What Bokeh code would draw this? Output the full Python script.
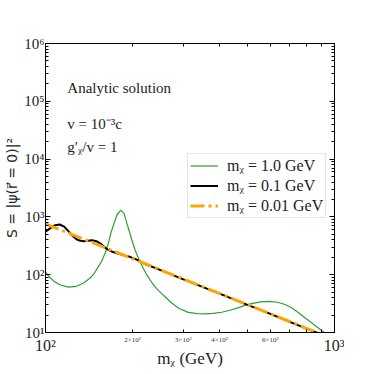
from bokeh.plotting import figure
from bokeh.models import LogAxis, FixedTicker, Label, Legend, LegendItem
from bokeh.embed import file_html
from bokeh.resources import INLINE

# ---- data ----
m_green = [100, 103, 106.6, 112, 120, 128, 135.4, 142, 146.6, 152, 156.5, 161, 165.1, 169, 172.9, 177, 182.3,
           187, 191, 195, 198.7, 204, 210, 217, 224, 233, 242, 256, 274, 290, 312, 335, 357, 380, 407, 435,
           466, 495, 517, 555, 597, 635, 675, 715, 751, 790, 833, 875, 915, 960, 1000]
s_green = [112, 92, 78, 67, 61, 63, 72, 86, 101, 135, 171, 240, 356, 560, 790, 1100, 1306,
           1150, 790, 560, 406, 270, 190, 135, 100, 74, 58, 44, 32, 26, 22.3, 21.2, 21, 21.4, 22.4, 24.3,
           27, 30, 31.6, 33.8, 34.6, 33.4, 30.5, 26.3, 22, 18, 14.7, 12.2, 10.3, 8.5, 7.2]

m_black = [100, 104, 108, 112, 116, 120, 124, 128, 132, 136, 140, 145, 150, 155, 160, 165, 170, 176, 182,
           188, 196, 203, 210, 220, 250, 300, 400, 500, 600, 700, 800, 900, 1000]
s_black = [552, 640, 720, 739, 680, 566, 470, 410, 385, 380, 388, 395, 380, 345, 300, 268, 250, 238, 226,
           214, 204, 190, 176, 155, 120, 83, 47, 30, 21, 15.3, 11.7, 9.3, 7.5]

m_orange = [100, 120, 150, 200, 250, 300, 400, 500, 600, 700, 800, 900, 1000]
s_orange = [758, 526, 337, 190, 121, 84, 47.4, 30.3, 21, 15.5, 11.8, 9.4, 7.6]

legend_labels = ["mᵪ = 1.0 GeV", "mᵪ = 0.1 GeV", "mᵪ = 0.01 GeV"]

x_major = [100, 1000]
x_minor = [200, 300, 400, 500, 600, 700, 800, 900]
x_major_labels = {100: "10²", 1000: "10³"}
x_minor_labels = {200: "2×10²", 300: "3×10²", 400: "4×10²", 600: "6×10²"}
y_major = [1e1, 1e2, 1e3, 1e4, 1e5, 1e6]
y_minor = [k * 10 ** e for e in range(1, 6) for k in range(2, 10)]
y_major_labels = {10: "10¹", 100: "10²", 1000: "10³", 10000: "10⁴", 100000: "10⁵", 1000000: "10⁶"}

FONT = "Liberation Serif"
TXT = "#222222"

p = figure(frame_width=289, frame_height=289, x_axis_type="log", y_axis_type="log",
           x_range=(100, 1000), y_range=(10, 1e6),
           output_backend="svg", toolbar_location=None,
           min_border_left=45, min_border_right=10, min_border_top=43, min_border_bottom=20)
p.xgrid.visible = False
p.ygrid.visible = False
p.outline_line_color = "black"
p.outline_line_width = 1

def ticks_style(ax, ticks, minor, tin=5, min_in=3):
    ax.ticker = FixedTicker(ticks=ticks, minor_ticks=minor)
    ax.major_tick_in = tin
    ax.major_tick_out = 0
    ax.minor_tick_in = min_in
    ax.minor_tick_out = 0
    ax.axis_line_color = "black"
    ax.major_tick_line_color = "black"
    ax.minor_tick_line_color = "black"

def hide_labels(ax, ticks):
    ax.major_label_overrides = {t: " " for t in ticks}
    ax.major_label_text_font_size = "1px"
    ax.major_label_text_color = None
    ax.major_label_standoff = 0

# bottom axis 1: ticks + small minor-position labels
xb = p.xaxis[0]
all_x = x_major + x_minor
ticks_style(xb, sorted(all_x), [], tin=3)
xb.major_label_overrides = {t: x_minor_labels.get(t, " ") for t in all_x}
xb.major_label_text_font = FONT
xb.major_label_text_font_size = "7px"
xb.major_label_text_color = "#333333"
xb.major_label_standoff = 3

# bottom axis 2: big decade labels + axis title
xb2 = LogAxis()
xb2.ticker = FixedTicker(ticks=x_major, minor_ticks=[])
xb2.major_tick_in = 0
xb2.major_tick_out = 0
xb2.minor_tick_in = 0
xb2.minor_tick_out = 0
xb2.axis_line_color = None
xb2.major_label_overrides = x_major_labels
xb2.major_label_text_font = FONT
xb2.major_label_text_font_size = "16px"
xb2.major_label_text_color = TXT
xb2.major_label_standoff = -10
xb2.axis_label = "mᵪ (GeV)"
xb2.axis_label_text_font = FONT
xb2.axis_label_text_font_style = "normal"
xb2.axis_label_text_font_size = "17px"
xb2.axis_label_text_color = TXT
xb2.axis_label_standoff = -8
p.add_layout(xb2, "below")

# left axis
yl = p.yaxis[0]
ticks_style(yl, y_major, y_minor)
yl.major_label_overrides = y_major_labels
yl.major_label_text_font = FONT
yl.major_label_text_font_size = "15px"
yl.major_label_text_color = TXT
yl.major_label_standoff = 1
yl.axis_label = "S = |ψ(r⃗ = 0)|²"
yl.axis_label_text_font = "DejaVu Sans"
yl.axis_label_text_font_style = "normal"
yl.axis_label_text_font_size = "14px"
yl.axis_label_text_color = TXT
yl.axis_label_standoff = 1

top = LogAxis()
ticks_style(top, x_major + x_minor, [], tin=3)
hide_labels(top, x_major + x_minor)
p.add_layout(top, "above")
right = LogAxis()
ticks_style(right, y_major, y_minor)
hide_labels(right, y_major)
p.add_layout(right, "right")

r_green = p.line(m_green, s_green, line_color="#2ca02c", line_width=1.2)
r_black = p.line(m_black, s_black, line_color="black", line_width=2)
r_orange = p.line(m_orange, s_orange, line_color="orange", line_width=3, line_dash="14 4 3 4")

texts = [("Analytic solution", 1.25e5), ("v = 10⁻³c", 3.0e4), ("g′ᵪ/v = 1", 1.2e4)]
for t, yv in texts:
    p.add_layout(Label(x=119, y=yv, text=t, text_font=FONT, text_font_size="15px",
                       text_color=TXT))

legend = Legend(items=[LegendItem(label=legend_labels[0], renderers=[r_green]),
                       LegendItem(label=legend_labels[1], renderers=[r_black]),
                       LegendItem(label=legend_labels[2], renderers=[r_orange])],
                location=(142, 114))
legend.padding = 2
legend.spacing = 1
legend.glyph_height = 19
legend.label_height = 19
legend.glyph_width = 28
legend.label_standoff = 9
legend.margin = 0
legend.label_text_font = FONT
legend.label_text_font_size = "16px"
legend.label_text_color = TXT
legend.border_line_color = "#cccccc"
legend.background_fill_alpha = 0.85
p.add_layout(legend, "center")

open("out.html", "w").write(file_html(p, INLINE))
